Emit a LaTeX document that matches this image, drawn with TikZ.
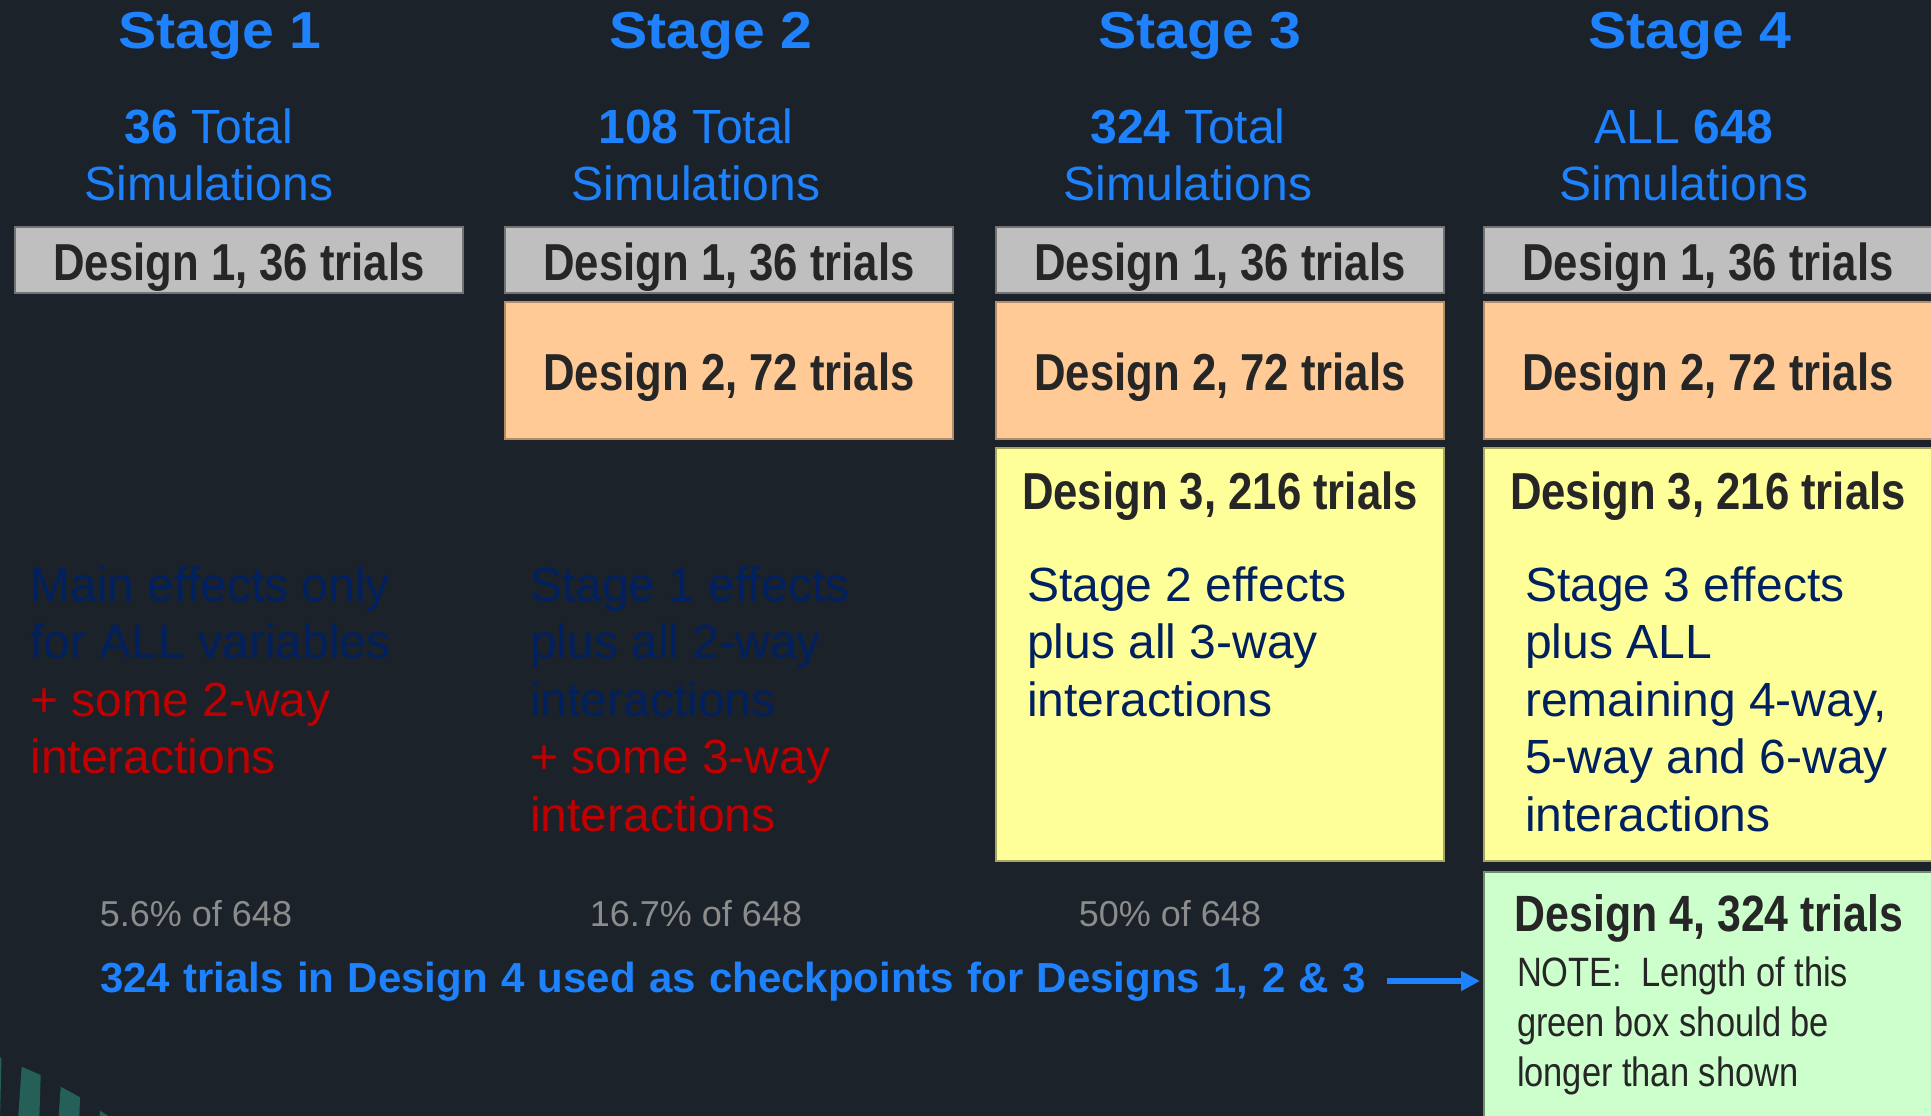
\documentclass[tikz,border=0pt]{standalone}
\usepackage{fontspec}
\setmainfont{Liberation Sans}
\newfontfamily\hdrfont[FakeStretch=1.1]{Liberation Sans}
\newfontfamily\narrowfont[FakeStretch=0.84]{Liberation Sans}
\usetikzlibrary{arrows.meta}

\definecolor{bg}{RGB}{27,34,41}
\definecolor{hblue}{RGB}{30,130,255}
\definecolor{navy}{RGB}{0,32,96}
\definecolor{darkred}{RGB}{192,0,0}
\definecolor{pctgray}{RGB}{140,140,140}
\definecolor{ink}{RGB}{38,38,38}
\definecolor{boxgray}{RGB}{191,191,191}
\definecolor{boxorange}{RGB}{255,202,150}
\definecolor{boxyellow}{RGB}{255,255,153}
\definecolor{boxgreen}{RGB}{204,255,204}
\definecolor{stripe}{RGB}{36,96,88}

\begin{document}
\begin{tikzpicture}[x=1pt,y=-1pt,
  every node/.style={inner sep=0pt,outer sep=0pt},
  stagehead/.style={anchor=base,text=hblue,font=\hdrfont\bfseries\fontsize{52}{62}\selectfont},
  subhead/.style={anchor=base,text=hblue,font=\fontsize{48}{57}\selectfont},
  designbox/.style={anchor=north west,minimum width=448pt,text=ink,
    font=\narrowfont\bfseries\fontsize{52}{62}\selectfont,line width=1.2pt,
    text height=40pt,text depth=0pt},
  d1/.style={designbox,fill=boxgray,draw=boxgray!60!black,minimum height=66pt},
  d2/.style={designbox,fill=boxorange,draw=boxorange!70!black,minimum height=137pt},
  d3/.style={anchor=north west,minimum width=448pt,minimum height=413pt,
    fill=boxyellow,draw=boxyellow!65!black,line width=1.2pt},
  d4/.style={anchor=north west,minimum width=448pt,minimum height=270pt,
    fill=boxgreen,draw=boxgreen!55!black,line width=1.2pt},
  boxtitle/.style={anchor=base,text=ink,font=\narrowfont\bfseries\fontsize{52}{62}\selectfont},
  para/.style={anchor=base west,font=\fontsize{48}{57.5}\selectfont},
  pct/.style={anchor=base,text=pctgray,font=\fontsize{36}{43}\selectfont},
  note/.style={anchor=base west,text=ink,font=\narrowfont\fontsize{41}{50}\selectfont},
  footline/.style={anchor=base west,text=hblue,font=\bfseries\fontsize{42}{50}\selectfont},
  flowarrow/.style={draw=hblue,line width=6.6pt,
    -{Triangle[length=19pt,width=19pt]},shorten >=4pt}
]
% canvas
\useasboundingbox (0,0) rectangle (1931,1116);
\fill[bg] (0,0) rectangle (1931,1116);
\clip (0,0) rectangle (1931,1116);

% decorative stripes, lower left
\fill[stripe] (-12,1052) -- (1.5,1058) -- (0,1120) -- (-12,1120) -- cycle;
\fill[stripe] (21.7,1066.7) -- (40.7,1075) -- (39.3,1120) -- (18,1120) -- cycle;
\fill[stripe] (60.7,1086.7) -- (80,1097.3) -- (79.3,1120) -- (58.4,1120) -- cycle;
\fill[stripe] (100,1110.7) -- (108.3,1116) -- (108.3,1120) -- (99.4,1120) -- cycle;

% stage headings
\node[stagehead] (st1) at (220,48.3) {Stage 1};
\node[stagehead] (st2) at (711,48.3) {Stage 2};
\node[stagehead] (st3) at (1200,48.3) {Stage 3};
\node[stagehead] (st4) at (1690,48.3) {Stage 4};

% simulation totals
\node[subhead] (tot1) at (209,143) {\parbox[t]{400pt}{\centering\textbf{36} Total\\Simulations}};
\node[subhead] (tot2) at (696,143) {\parbox[t]{400pt}{\centering\textbf{108} Total\\Simulations}};
\node[subhead] (tot3) at (1188,143) {\parbox[t]{400pt}{\centering\textbf{324} Total\\Simulations}};
\node[subhead] (tot4) at (1684,143) {\parbox[t]{400pt}{\centering ALL \textbf{648}\\Simulations}};

% design 1 boxes
\node[d1] (g1) at (15,227) {Design 1, 36 trials};
\node[d1] (g2) at (505,227) {Design 1, 36 trials};
\node[d1] (g3) at (996,227) {Design 1, 36 trials};
\node[d1] (g4) at (1484,227) {Design 1, 36 trials};

% design 2 boxes
\node[d2] (o2) at (505,302) {Design 2, 72 trials};
\node[d2] (o3) at (996,302) {Design 2, 72 trials};
\node[d2] (o4) at (1484,302) {Design 2, 72 trials};

% design 3 boxes
\node[d3] (y3) at (996,448) {};
\node[d3] (y4) at (1484,448) {};
\node[boxtitle] (y3t) at (1220,509) {Design 3, 216 trials};
\node[boxtitle] (y4t) at (1708,509) {Design 3, 216 trials};

% design 4 box
\node[d4] (gr4) at (1484,872) {};
\node[boxtitle,font=\narrowfont\bfseries\fontsize{51}{61}\selectfont] (gr4t) at (1709,931.7) {Design 4, 324 trials};
\node[note] (gr4n) at (1517,986) {\parbox[t]{400pt}{NOTE:\ \ Length of this\\green box should be\\longer than shown}};

% effects covered at each stage
\node[para,text=navy] (eff1) at (30.5,601) {\parbox[t]{440pt}{Main effects only\\for ALL variables\\\textcolor{darkred}{+ some 2-way}\\\textcolor{darkred}{interactions}}};
\node[para,text=navy] (eff2) at (530,601) {\parbox[t]{440pt}{Stage 1 effects\\plus all 2-way\\interactions\\\textcolor{darkred}{+ some 3-way}\\\textcolor{darkred}{interactions}}};
\node[para,text=navy] (eff3) at (1027,601) {\parbox[t]{400pt}{Stage 2 effects\\plus all 3-way\\interactions}};
\node[para,text=navy] (eff4) at (1525,601) {\parbox[t]{400pt}{Stage 3 effects\\plus ALL\\remaining 4-way,\\5-way and 6-way\\interactions}};

% share of the full set
\node[pct] (p1) at (196,926.7) {5.6\% of 648};
\node[pct] (p2) at (696,926.7) {16.7\% of 648};
\node[pct] (p3) at (1170,926.7) {50\% of 648};

% checkpoint note and arrow
\node[footline] (foot) at (100,992) {\makebox[1266pt][s]{324 trials in Design 4 used as checkpoints for Designs 1, 2 \& 3}};
\coordinate (arrowstart) at (1387,981);
\draw[flowarrow] (arrowstart) -- (arrowstart -| gr4.west);
\end{tikzpicture}
\end{document}
